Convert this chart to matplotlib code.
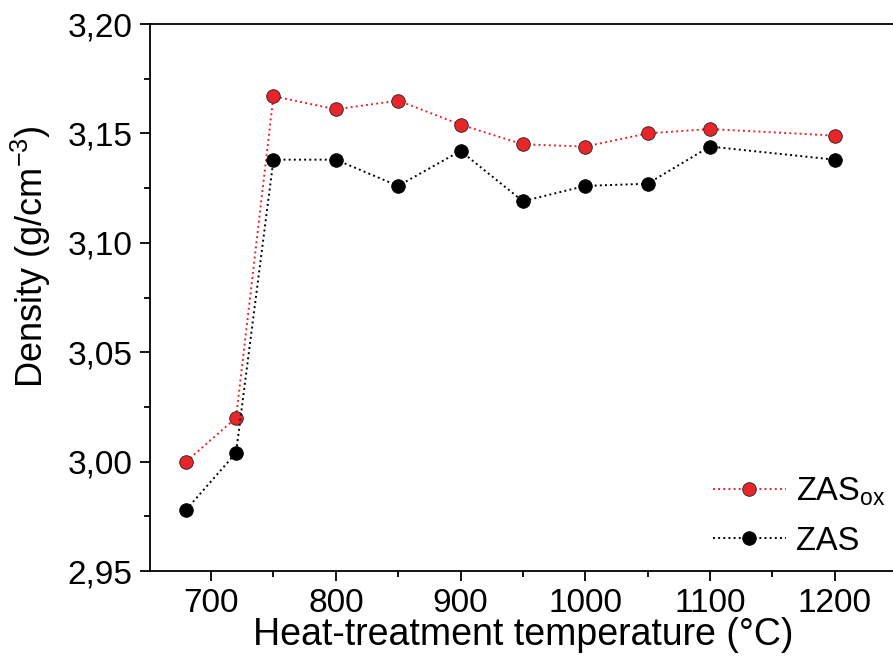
import matplotlib
matplotlib.use("Agg")
import matplotlib.pyplot as plt
from matplotlib.ticker import MultipleLocator, FuncFormatter

plt.rcParams['font.family'] = ['Liberation Sans', 'DejaVu Sans']
plt.rcParams['mathtext.fontset'] = 'custom'
plt.rcParams['mathtext.rm'] = 'Liberation Sans'
plt.rcParams['mathtext.it'] = 'Liberation Sans:italic'

temps = [680, 720, 750, 800, 850, 900, 950, 1000, 1050, 1100, 1200]
density_zas_ox = [3.000, 3.020, 3.167, 3.161, 3.165, 3.154, 3.145, 3.144, 3.150, 3.152, 3.149]
density_zas = [2.978, 3.004, 3.138, 3.138, 3.126, 3.142, 3.119, 3.126, 3.127, 3.144, 3.138]

fig = plt.figure(figsize=(8.93, 6.63), dpi=100)
ax = fig.add_axes([150 / 893, 92 / 663, 747 / 893, 547 / 663])

ax.plot(temps, density_zas_ox, ':', color='#e8262a', lw=1.4,
        marker='o', ms=9.8, mfc='#e8262a', mec='#222222', mew=0.6,
        label='ZAS$_{\\mathrm{ox}}$')
ax.plot(temps, density_zas, ':', color='black', lw=1.4,
        marker='o', ms=9.8, mfc='black', mec='black', mew=0.6,
        label='ZAS')

ax.set_xlim(651, 1250)
ax.set_ylim(2.95, 3.20)
ax.xaxis.set_major_locator(MultipleLocator(100))
ax.xaxis.set_minor_locator(MultipleLocator(50))
ax.yaxis.set_major_locator(MultipleLocator(0.05))
ax.yaxis.set_minor_locator(MultipleLocator(0.025))
ax.yaxis.set_major_formatter(FuncFormatter(lambda v, p: f"{v:.2f}".replace('.', ',')))

for s in ax.spines.values():
    s.set_linewidth(1.3)
ax.tick_params(which='major', direction='out', length=7.5, width=1.3, labelsize=24, pad=5)
ax.tick_params(which='minor', direction='out', length=4.5, width=1.3)

ax.set_xlabel('Heat-treatment temperature (°C)', fontsize=27, labelpad=-2)
ax.set_ylabel('Density (g/cm$^{-3}$)', fontsize=26)
ax.yaxis.set_label_coords(-0.13, 0.574)

ax.legend(loc='lower right', bbox_to_anchor=(1.0, 0.005), frameon=False,
          fontsize=23.5, handlelength=2.25, handletextpad=0.3, labelspacing=0.55,
          borderaxespad=0, borderpad=0.35)

fig.savefig('out.png', dpi=100)
